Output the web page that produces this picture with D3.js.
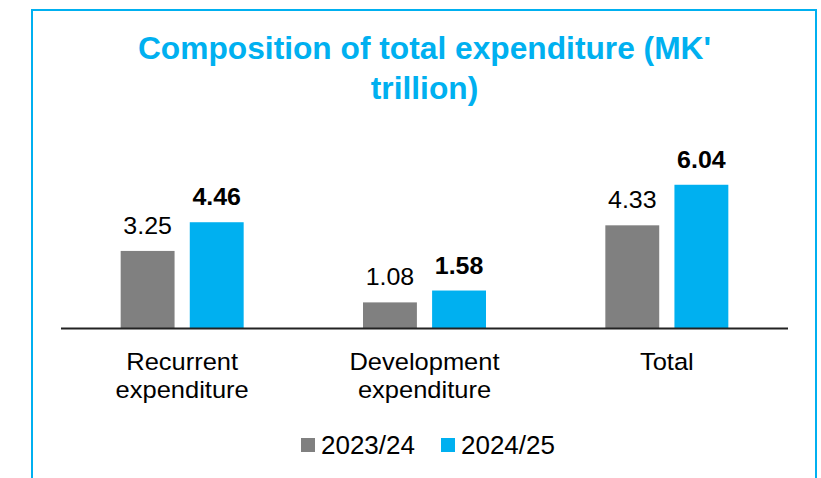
<!DOCTYPE html>
<html>
<head>
<meta charset="utf-8">
<script src="https://cdn.jsdelivr.net/npm/d3@7"></script>
<style>
  html, body { margin: 0; padding: 0; background: #fff; }
  svg { display: block; font-family: "Liberation Sans", Arial, sans-serif; }
</style>
</head>
<body>
<div id="chart"></div>
<script>
// Data
const categories = [["Recurrent", "expenditure"], ["Development", "expenditure"], ["Total"]];
const seriesNames = ["2023/24", "2024/25"];
const values2023 = [3.25, 1.08, 4.33];
const values2024 = [4.46, 1.58, 6.04];
const seriesColors = ["#808080", "#00B0F0"];

const width = 821, height = 478;
// the source picture is a touch wider than normal, so text gets a small stretch
const SX = 1.04;

const svg = d3.select('#chart').append('svg')
    .attr('width', width)
    .attr('height', height);

// Frame around the chart (bottom edge is cut off in the picture)
svg.append('rect')
    .attr('x', 32).attr('y', 10)
    .attr('width', 784).attr('height', 500)
    .attr('fill', 'none')
    .attr('stroke', '#00B0F0')
    .attr('stroke-width', 2);

// Title
const title = ["Composition of total expenditure (MK'", "trillion)"];
svg.selectAll('.title').data(title).join('text')
    .attr('class', 'title')
    .attr('transform', (d, i) => `translate(424.5,${59 + i * 40}) scale(${SX},1)`)
    .attr('text-anchor', 'middle')
    .attr('font-size', 30.5)
    .attr('font-weight', 'bold')
    .attr('fill', '#00B0F0')
    .text(d => d);

// Scales
const catKeys = categories.map(d => d.join(' '));
const x = d3.scaleBand().domain(catKeys).range([61, 788]);
const x1 = d3.scaleBand().domain(seriesNames).range([-61.5, 61.5]).paddingInner(0.22);
const y = d3.scaleLinear().domain([0, 7]).range([328, 162]);

const data = catKeys.map((c, i) => ({
    cat: c,
    vals: [
        { s: seriesNames[0], v: values2023[i], bold: false },
        { s: seriesNames[1], v: values2024[i], bold: true }
    ]
}));

const groups = svg.selectAll('.grp').data(data).join('g')
    .attr('class', 'grp')
    .attr('transform', d => `translate(${x(d.cat) + x.bandwidth() / 2},0)`);

groups.selectAll('rect').data(d => d.vals).join('rect')
    .attr('x', d => x1(d.s))
    .attr('y', d => y(d.v))
    .attr('width', x1.bandwidth())
    .attr('height', d => y(0) - y(d.v))
    .attr('fill', (d, i) => seriesColors[i]);

// Value labels
groups.selectAll('.val').data(d => d.vals).join('text')
    .attr('class', 'val')
    .attr('transform', d => `translate(${x1(d.s) + x1.bandwidth() / 2},${y(d.v) - 17}) scale(${SX},1)`)
    .attr('text-anchor', 'middle')
    .attr('font-size', 24)
    .attr('font-weight', d => d.bold ? 'bold' : 'normal')
    .attr('fill', '#000')
    .text(d => d.v.toFixed(2));

// Axis line
svg.append('line')
    .attr('x1', x.range()[0]).attr('x2', x.range()[1])
    .attr('y1', y(0) + 0.5).attr('y2', y(0) + 0.5)
    .attr('stroke', '#222')
    .attr('stroke-width', 1.8);

// Category labels
categories.forEach((lines, i) => {
    svg.selectAll('.cat' + i).data(lines).join('text')
        .attr('class', 'cat' + i)
        .attr('transform', (d, j) => `translate(${x(catKeys[i]) + x.bandwidth() / 2},${370 + j * 28}) scale(${SX},1)`)
        .attr('text-anchor', 'middle')
        .attr('font-size', 24.5)
        .attr('fill', '#000')
        .text(d => d);
});

// Legend
const legendX = [301, 441];
const legend = svg.selectAll('.leg').data(seriesNames).join('g')
    .attr('class', 'leg')
    .attr('transform', (d, i) => `translate(${legendX[i]},438)`);
legend.append('rect')
    .attr('width', 14).attr('height', 14)
    .attr('fill', (d, i) => seriesColors[i]);
legend.append('text')
    .attr('transform', `translate(20,16) scale(${SX},1)`)
    .attr('font-size', 25)
    .attr('fill', '#000')
    .text(d => d);
</script>
</body>
</html>
